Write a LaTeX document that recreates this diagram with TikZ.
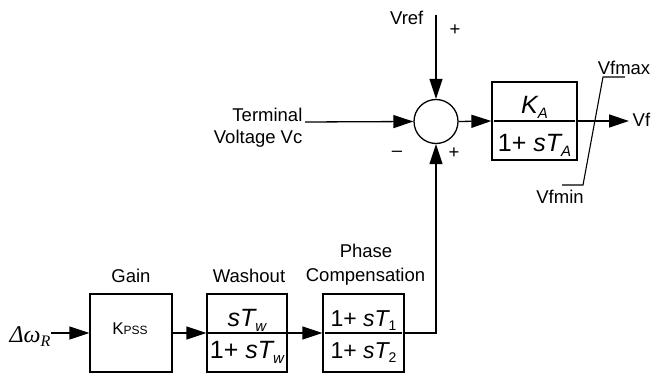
\documentclass[tikz,border=0pt]{standalone}
\usepackage{fontspec}
\setmainfont{Liberation Sans}
\newfontfamily\seriffont{Liberation Serif}
\usetikzlibrary{arrows.meta}
\newcommand\lsb[2]{\raisebox{-0.2em}{\fontsize{#1}{#1}\selectfont #2}}
\begin{document}
\begin{tikzpicture}[x=1pt,y=-1pt,
  line width=1.3pt,
  arr/.style={-{Triangle[length=20pt,width=13pt]}},
  blk/.style={draw,minimum height=78pt,inner sep=0pt},
  lbl/.style={font=\fontsize{18.5}{21}\selectfont,inner sep=0pt},
  fr/.style={font=\fontsize{25}{27}\selectfont,inner sep=0pt,anchor=base},
  frs/.style={font=\fontsize{23}{25}\selectfont,inner sep=0pt,anchor=base},
  lim/.style={line width=1.1pt},
]
\useasboundingbox (0,0) rectangle (652,374);

% summing junction
\node[draw,circle,minimum size=44pt,inner sep=0pt] (sum) at (436,121.5) {};
\coordinate (vreftop) at (436,15);
\draw[arr] (vreftop) -- (sum.north);
\node[lbl,anchor=base east] (vref) at (424,25) {Vref};
\node[lbl,anchor=base] (pa) at (455,36) {+};
\node[lbl,anchor=base east] (term) at (303,122) {Terminal};
\node[lbl,anchor=base east] (volt) at (303,143) {Voltage Vc};
\coordinate (tv) at (305,122);
\draw[arr] (tv) -- (sum.west);
\node[lbl,anchor=base] (minus) at (397,157) {\textendash};
\node[lbl,anchor=base] (pb) at (454,158) {+};

% exciter block
\node[blk,minimum width=85pt] (ka) at (534.5,121) {};
\draw ([xshift=3pt]ka.west) -- ([xshift=-3pt]ka.east);
\node[fr] (kan) at (534.5,114) {\itshape K\lsb{15}{A}};
\node[fr] (kad) at (534.5,152) {1+ \itshape sT\lsb{15}{A}};
\draw[arr] (sum.east) -- (ka.west);
\coordinate (vfend) at (629,121);
\draw[arr] (ka.east) -- (vfend);
\node[lbl,anchor=base west] (vf) at (632,127) {Vf};
\coordinate (l1) at (625,77);
\coordinate (l2) at (603,77);
\coordinate (l3) at (583,185);
\coordinate (l4) at (562,185);
\draw[lim] (l1) -- (l2) -- (l3) -- (l4);
\node[lbl,anchor=base] (vfmax) at (624,75) {Vfmax};
\node[lbl,anchor=base] (vfmin) at (560,203) {Vfmin};

% PSS chain
\node[inner sep=0pt,anchor=base,font=\fontsize{24}{26}\selectfont\seriffont\itshape] (dw) at (30,342) {Δω\lsb{16}{R}};
\node[blk,minimum width=82pt] (gain) at (131,333) {};
\node[anchor=base,inner sep=0pt,font=\fontsize{17}{20}\selectfont] (kpss) at (130,334) {K\fontsize{12}{14}\selectfont PSS};
\node[lbl,anchor=base] (gainl) at (131,282) {Gain};
\draw[arr] (dw.east |- gain.west) -- (gain.west);

\node[blk,minimum width=80pt] (wo) at (247,333) {};
\draw ([xshift=2pt]wo.west) -- ([xshift=-2pt]wo.east);
\node[fr] (won) at (247,326) {\itshape sT\lsb{15}{w}};
\node[fr] (wod) at (247,358) {1+ \itshape sT\lsb{15}{w}};
\node[lbl,anchor=base] (wol) at (249,282) {Washout};
\draw[arr] (gain.east) -- (wo.west);

\node[blk,minimum width=81pt] (ph) at (363.5,333) {};
\draw ([xshift=3pt]ph.west) -- ([xshift=-3pt]ph.east);
\node[frs] (phn) at (363.5,326) {1+ {\itshape sT}\lsb{14}{1}};
\node[frs] (phd) at (363.5,358) {1+ {\itshape sT}\lsb{14}{2}};
\node[lbl,anchor=base] (phl1) at (366,257) {Phase};
\node[lbl,anchor=base] (phl2) at (365.5,281) {Compensation};
\draw[arr] (wo.east) -- (ph.west);
\coordinate (corner) at (436,333);
\draw[arr] (ph.east) -- (corner) -- (sum.south);
\end{tikzpicture}
\end{document}
